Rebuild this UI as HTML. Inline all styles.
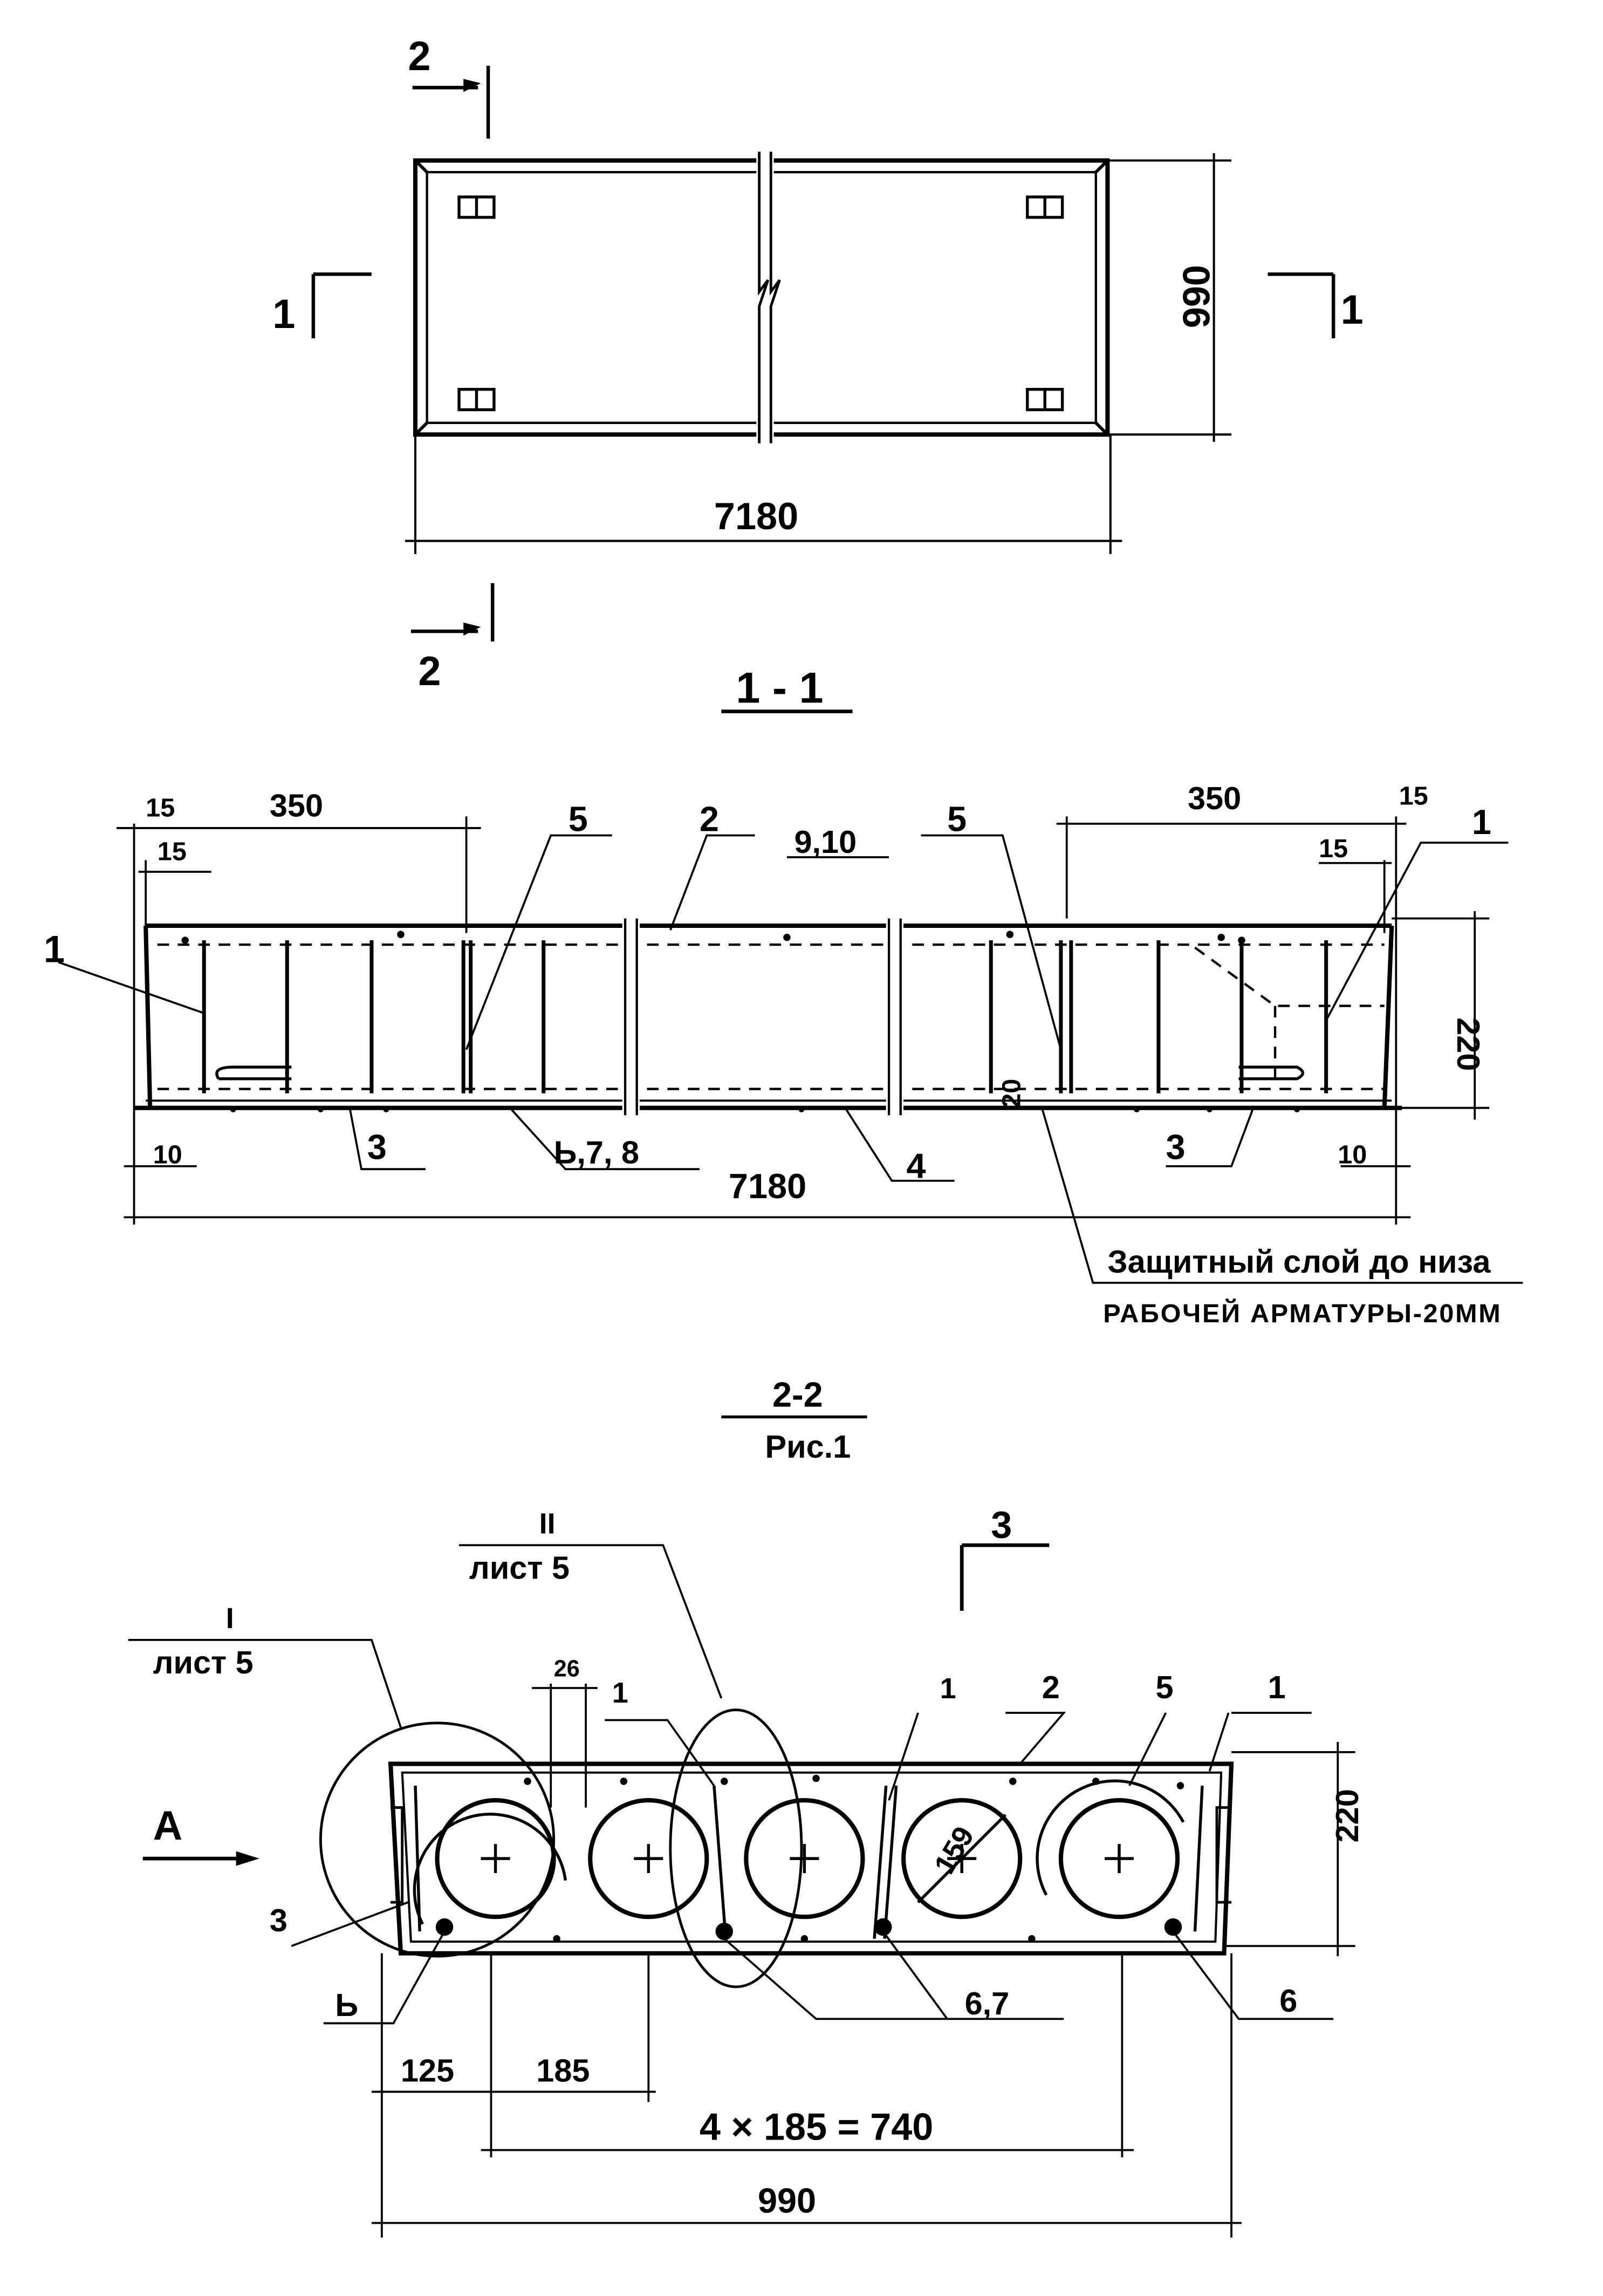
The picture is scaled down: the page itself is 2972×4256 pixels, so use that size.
<!DOCTYPE html>
<html><head><meta charset="utf-8"><style>
html,body{margin:0;padding:0;background:#fff}
svg{display:block}
text{font-family:"Liberation Sans Narrow","Liberation Sans",sans-serif;font-weight:bold;fill:#000}
</style></head><body>
<svg width="2972" height="4256" viewBox="0 0 1100 1575" xmlns="http://www.w3.org/2000/svg">
<g stroke="#000" fill="none" stroke-width="2.2">
<rect x="285" y="110" width="475" height="188" stroke-width="3"/>
<rect x="293" y="118" width="459" height="172" stroke-width="1.6"/>
<line x1="285" y1="110" x2="293" y2="118"/><line x1="760" y1="110" x2="752" y2="118"/>
<line x1="285" y1="298" x2="293" y2="290"/><line x1="760" y1="298" x2="752" y2="290"/>
<rect x="519" y="104" width="12" height="200" fill="#fff" stroke="none"/>
<path d="M521 104 L521 200 L527 192 L521 210 L521 304 M529 104 L529 200 L535 192 L529 210 L529 304" stroke-width="1.8"/>
<g stroke-width="2">
<rect x="315" y="135" width="24" height="14"/><line x1="327" y1="135" x2="327" y2="149"/>
<rect x="705" y="135" width="24" height="14"/><line x1="717" y1="135" x2="717" y2="149"/>
<rect x="315" y="267" width="24" height="14"/><line x1="327" y1="267" x2="327" y2="281"/>
<rect x="705" y="267" width="24" height="14"/><line x1="717" y1="267" x2="717" y2="281"/>
</g>
<path d="M760 110 L845 110 M760 298 L845 298 M833 105 L833 303" stroke-width="1.5"/>
<path d="M285 298 L285 380 M762 298 L762 380 M278 371 L770 371" stroke-width="1.5"/>
<path d="M283 60 L328 60 M335 45 L335 95 M215 188 L255 188 M215 188 L215 232 M870 188 L915 188 M915 188 L915 232 M282 433 L328 433 M338 400 L338 440" stroke-width="2.4"/>
<path d="M495 488 L585 488" stroke-width="2.5"/>
<path d="M100 635 L955 635 M92 760 L962 760 M100 635 L103 760 M955 635 L950 760" stroke-width="3"/>
<path d="M108 648 L950 648 M108 747 L950 747" stroke-dasharray="8 6" stroke-width="1.6"/>
<path d="M820 650 L875 690 L950 690 M875 690 L875 745" stroke-dasharray="8 6" stroke-width="1.6"/>
<path d="M100 755 L955 755" stroke-width="1.4"/>
<g stroke-width="2.6">
<line x1="140" y1="645" x2="140" y2="750"/><line x1="197" y1="645" x2="197" y2="750"/>
<line x1="255" y1="645" x2="255" y2="750"/><line x1="318" y1="645" x2="318" y2="750"/>
<line x1="323" y1="645" x2="323" y2="750"/><line x1="373" y1="645" x2="373" y2="750"/>
<line x1="680" y1="645" x2="680" y2="750"/><line x1="728" y1="645" x2="728" y2="750"/>
<line x1="735" y1="645" x2="735" y2="750"/><line x1="795" y1="645" x2="795" y2="750"/>
<line x1="852" y1="645" x2="852" y2="750"/><line x1="910" y1="645" x2="910" y2="750"/>
</g>
<rect x="427" y="630" width="12" height="135" fill="#fff" stroke="none"/>
<rect x="608" y="630" width="12" height="135" fill="#fff" stroke="none"/>
<path d="M429 630 L429 765 M437 630 L437 765 M610 630 L610 765 M618 630 L618 765" stroke-width="1.6"/>
<path d="M150 740 Q145 732 160 732 L200 732 M150 740 L200 740 M850 732 L890 732 Q898 736 890 740 L850 740" stroke-width="2"/>
<g stroke-width="1.4">
<path d="M92 565 L92 840 M100 590 L100 640 M320 560 L320 640 M80 568 L330 568 M95 598 L145 598"/>
<path d="M958 560 L958 840 M950 590 L950 640 M732 560 L732 630 M725 565 L965 565 M905 592 L955 592"/>
<path d="M1012 625 L1012 768 M955 630 L1022 630 M955 760 L1022 760"/>
<path d="M85 835 L968 835 M85 800 L135 800 M920 800 L968 800"/>
<path d="M40 660 L140 695 M320 720 L378 573 L420 573 M460 638 L485 573 L518 573 M540 588 L610 588 M728 720 L688 573 L632 573 M910 700 L975 578 L1035 578"/>
<path d="M240 760 L248 802 L292 802 M350 760 L388 802 L480 802 M580 760 L612 810 L655 810 M860 760 L845 800 L800 800"/>
<path d="M715 760 L750 880 L1045 880"/>
</g>
<g fill="#000" stroke="none">
<circle cx="127" cy="645" r="2.5"/><circle cx="275" cy="641" r="2.5"/><circle cx="540" cy="643" r="2.5"/><circle cx="693" cy="641" r="2.5"/><circle cx="838" cy="643" r="2.5"/><circle cx="852" cy="645" r="2.5"/>
<circle cx="160" cy="761" r="2"/><circle cx="220" cy="761" r="2"/><circle cx="265" cy="761" r="2"/><circle cx="550" cy="761" r="2"/><circle cx="780" cy="761" r="2"/><circle cx="830" cy="761" r="2"/><circle cx="890" cy="761" r="2"/>
</g>
<path d="M495 972 L595 972" stroke-width="2"/>
<path d="M268 1210 L845 1210 L840 1340 L275 1340 Z" stroke-width="3"/>
<path d="M276 1216 L838 1216 L834 1332 L282 1332 Z" stroke-width="1.5"/>
<path d="M268 1240 L276 1240 L276 1305 L268 1305 M845 1240 L835 1240 L835 1305 L845 1305" stroke-width="1.8"/>
<g stroke-width="3">
<circle cx="340" cy="1275" r="40"/><circle cx="445" cy="1275" r="40"/><circle cx="552" cy="1275" r="40"/><circle cx="660" cy="1275" r="40"/><circle cx="768" cy="1275" r="40"/>
</g>
<g stroke-width="2">
<path d="M290 1320 A52 52 0 1 1 388 1290"/><path d="M718 1300 A52 52 0 1 1 812 1250"/>
<path d="M490 1225 L498 1330 M608 1225 L600 1330 M615 1225 L607 1330 M285 1225 L288 1325 M825 1225 L820 1325"/>
<path d="M330 1275 L350 1275 M340 1265 L340 1285 M435 1275 L455 1275 M445 1265 L445 1285 M542 1275 L562 1275 M552 1265 L552 1285 M650 1275 L670 1275 M660 1265 L660 1285 M758 1275 L778 1275 M768 1265 L768 1285"/>
<path d="M630 1305 L690 1245"/>
</g>
<circle cx="300" cy="1262" r="80" stroke-width="1.8"/>
<ellipse cx="505" cy="1268" rx="45" ry="95" stroke-width="1.8"/>
<g fill="#000" stroke="none">
<circle cx="305" cy="1322" r="6"/><circle cx="497" cy="1325" r="6"/><circle cx="606" cy="1322" r="6"/><circle cx="805" cy="1322" r="6"/>
<circle cx="362" cy="1222" r="2.5"/><circle cx="428" cy="1222" r="2.5"/><circle cx="497" cy="1222" r="2.5"/><circle cx="560" cy="1220" r="2.5"/><circle cx="695" cy="1222" r="2.5"/><circle cx="752" cy="1222" r="2.5"/><circle cx="810" cy="1225" r="2.5"/>
<circle cx="382" cy="1330" r="2.5"/><circle cx="552" cy="1330" r="2.5"/><circle cx="708" cy="1330" r="2.5"/>
</g>
<g stroke-width="1.4">
<path d="M845 1202 L930 1202 M840 1335 L930 1335 M918 1195 L918 1342"/>
<path d="M262 1340 L262 1535 M337 1340 L337 1480 M445 1340 L445 1442 M770 1340 L770 1480 M845 1340 L845 1535"/>
<path d="M255 1435 L450 1435 M330 1475 L778 1475 M255 1525 L852 1525"/>
<path d="M378 1155 L378 1240 M402 1155 L402 1240 M365 1158 L410 1158"/>
<path d="M88 1125 L255 1125 L275 1185 M315 1060 L455 1060 L495 1165 M200 1335 L280 1305 M222 1388 L270 1388 L305 1325 M415 1180 L458 1180 L490 1225 M630 1175 L610 1235 M690 1175 L730 1175 L700 1210 M800 1175 L775 1225 M845 1175 L900 1175 M843 1175 L830 1215 M497 1330 L560 1385 L730 1385 M606 1325 L650 1385 M805 1325 L850 1385 L915 1385"/>
<path d="M98 1275 L170 1275" stroke-width="2.5"/>
<path d="M660 1060 L660 1105 M660 1060 L720 1060" stroke-width="2.5"/>
</g>
<g fill="#000" stroke="none">
<path d="M330 57 L318 54 L318 63 Z"/><path d="M330 430 L318 427 L318 436 Z"/>
<path d="M178 1275 L162 1270 L162 1280 Z"/>
</g>
</g>
<g font-size="28">
<text x="280" y="48">2</text><text x="287" y="470">2</text>
<text x="187" y="225">1</text><text x="920" y="222">1</text>
<text x="490" y="363" font-size="26">7180</text>
<text x="800" y="215" font-size="26" transform="rotate(-90 820 205)">990</text>
<text x="505" y="482" font-size="30">1 - 1</text>
<text x="100" y="560" font-size="18">15</text><text x="108" y="590" font-size="18">15</text>
<text x="185" y="560" font-size="22">350</text><text x="815" y="555" font-size="22">350</text>
<text x="960" y="552" font-size="18">15</text><text x="905" y="588" font-size="18">15</text>
<text x="390" y="570" font-size="24">5</text><text x="480" y="570" font-size="24">2</text>
<text x="545" y="585" font-size="22">9,10</text><text x="650" y="570" font-size="24">5</text>
<text x="1010" y="572" font-size="24">1</text><text x="30" y="660" font-size="26">1</text>
<text x="1018" y="710" font-size="22" transform="rotate(90 1015 695)">220</text>
<text x="105" y="798" font-size="18">10</text><text x="918" y="798" font-size="18">10</text>
<text x="252" y="795" font-size="24">3</text><text x="380" y="798" font-size="22">Ь,7, 8</text>
<text x="500" y="822" font-size="24">7180</text><text x="622" y="808" font-size="24">4</text>
<text x="800" y="795" font-size="24">3</text>
<text x="708" y="768" font-size="18" transform="rotate(-90 700 768)">20</text>
<text x="760" y="873" font-size="22">Защитный слой до низа</text>
<text x="757" y="907" font-size="18" letter-spacing="1">РАБОЧЕЙ АРМАТУРЫ-20ММ</text>
<text x="530" y="965" font-size="24">2-2</text><text x="525" y="1000" font-size="22">Рис.1</text>
<text x="370" y="1052" font-size="20">II</text><text x="322" y="1083" font-size="22">лист 5</text>
<text x="155" y="1117" font-size="20">I</text><text x="105" y="1148" font-size="22">лист 5</text>
<text x="380" y="1150" font-size="16">26</text>
<text x="420" y="1168" font-size="20">1</text><text x="645" y="1165" font-size="20">1</text>
<text x="715" y="1165" font-size="22">2</text><text x="793" y="1165" font-size="22">5</text>
<text x="870" y="1165" font-size="22">1</text><text x="680" y="1055" font-size="26">3</text>
<text x="105" y="1262" font-size="28">А</text>
<text x="185" y="1325" font-size="22">3</text><text x="230" y="1383" font-size="22">Ь</text>
<text x="662" y="1382" font-size="22">6,7</text><text x="878" y="1380" font-size="22">6</text>
<text x="632" y="1278" font-size="20" transform="rotate(-60 650 1265)">159</text>
<text x="918" y="1290" font-size="22" transform="rotate(-90 912 1270)">220</text>
<text x="275" y="1428" font-size="22">125</text><text x="368" y="1428" font-size="22">185</text>
<text x="480" y="1468" font-size="26">4 × 185 = 740</text>
<text x="520" y="1518" font-size="24">990</text>
</g>
</svg>
</body></html>
